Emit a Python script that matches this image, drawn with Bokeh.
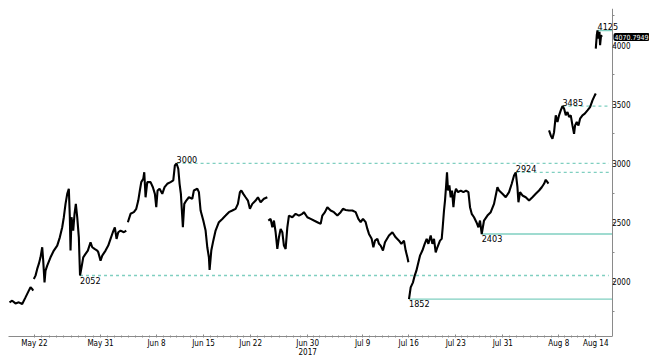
import math
from bokeh.plotting import figure
from bokeh.models import Range1d, FixedTicker, Label, LinearAxis
from bokeh.embed import file_html
from bokeh.resources import INLINE
from bokeh.core.properties import value

NaN = float("nan")
FONT = "DejaVu Sans Condensed"

# x = bar index (each bar ~3.6h, weekend/missing data compressed), y = price
bars = [
    1.0, 3.7, 7.0, 10.3, 13.7, 17.0, 20.3, 22.0, 23.7, 24.7, NaN,
    25.3, 27.0, 28.7, 30.3, 32.0, 33.7, 34.7, 36.0, 37.0, 38.7, 42.0, 45.3, 48.7, 51.3,
    53.7, 55.3, 57.0, 58.7, 60.3, 61.3, 62.0, 63.0, 64.7, 66.0, 67.3, 68.7, 70.3, 71.5,
    73.0, 74.7, 77.0, 79.3, 82.0, 83.7, 86.0, 88.7, 89.7, 92.0, 93.7, 97.0, 99.7, 102.0,
    104.3, 106.3, 108.0, 109.7, 112.0, 115.3, 117.7, NaN,
    119.3, 122.0, 125.3, 127.7, 129.7, 131.3, 132.7, 134.7, 135.7, 137.0, 138.7, 142.0,
    144.3, 146.3, 147.7, 149.0, 151.0, 153.7, 156.0, 158.7, 162.0, 164.7, 166.3, 168.0,
    169.7, 171.0, 172.3, 174.3, 175.7, 177.7, 180.3, 183.7, 185.3, 188.7, 190.3, 192.0,
    194.7, 197.0, 198.7, 200.3, 201.0, 202.7, 204.7, 207.0, 210.3, 213.7, 217.0, 220.3,
    223.7, 227.0, 229.3, 231.3, 232.7, 234.7, 237.0, 239.3, 241.3, 243.7, 247.0, 249.3,
    252.0, 255.3, 258.7, NaN,
    259.7, 262.0, 263.7, 265.3, 267.0, 268.7, 270.3, 272.0, 273.7, 275.3, 277.0, 278.7,
    280.3, 283.7, 287.0, 290.3, 293.7, 295.3, 298.7, 302.0, 305.3, 308.7, 312.0, 313.7,
    316.3, 318.7, 322.0, 325.3, 328.7, 332.0, 334.3, 337.0, 340.3, 343.7, 347.0, 349.7,
    352.0, 354.3, 357.0, 358.7, 360.3, 363.0, 364.7, 366.3, 368.7, 370.3, 372.0, 374.3,
    376.3, 380.3, 383.7, 387.0, 390.3, 392.7, 395.3, 397.0, 398.7, 399.7, NaN,
    400.3, 402.0, 404.3, 406.0, 407.7, 409.3, 411.3, 413.7, 416.0, 418.0, 419.7, 422.0,
    423.7, 425.3, 427.0, 428.7, 431.3, 433.0, 434.0, 435.3, 436.3, 437.3, 438.3, 439.3,
    440.7, 442.0, 443.3, 444.7, 446.0, 447.3, 449.3, 452.0, 454.7, 457.3, 459.7, 461.3,
    463.0, 465.3, 467.7, 469.7, 471.3, 473.0, 475.3, 478.7, 482.0, 485.3, 488.7, 490.3,
    493.7, 497.0, 500.3, 503.0, 505.3, 507.0, 508.7, 509.7, 511.3, 513.7, 517.0, 520.3,
    523.7, 527.0, 530.3, 533.0, 535.3, 537.0, 538.7, 539.7, NaN,
    540.3, 542.0, 543.7, 545.3, 547.0, 548.7, 550.3, 552.0, 553.7, 555.3, 557.0, 558.7,
    560.3, 562.0, 563.7, 565.3, 566.3, 568.0, 569.7, 571.3, 573.7, 576.0, 578.7, 581.3,
    583.7, 586.0, 587.0, NaN,
    587.0, 588.0, 588.7, 589.7, 590.7, 591.3, 592.3, 593.0,
]
price = [
    1825, 1839, 1816, 1825, 1811, 1867, 1924, 1952, 1938, 1924, NaN,
    2023, 2051, 2108, 2150, 2206, 2291, 2178, 1994, 2093, 2136, 2206, 2263, 2305, 2375,
    2460, 2545, 2658, 2743, 2786, 2545, 2263, 2545, 2432, 2574, 2658, 2545, 2375, 2052,
    2121, 2206, 2235, 2263, 2333, 2291, 2277, 2263, 2250, 2178, 2220, 2263, 2305, 2362,
    2418, 2460, 2362, 2418, 2432, 2418, 2432, NaN,
    2503, 2574, 2588, 2616, 2686, 2771, 2842, 2870, 2926, 2714, 2842, 2842,
    2799, 2743, 2630, 2771, 2786, 2743, 2799, 2828, 2842, 2856, 2983, 3000,
    2955, 2828, 2743, 2460, 2658, 2686, 2714, 2701, 2771, 2786, 2757, 2602,
    2517, 2432, 2291, 2206, 2100, 2263, 2347, 2432, 2503, 2531, 2559, 2588,
    2602, 2616, 2658, 2757, 2771, 2743, 2714, 2686, 2616, 2658, 2686, 2714,
    2672, 2701, 2714, NaN,
    2517, 2531, 2460, 2517, 2418, 2277, 2375, 2446, 2418, 2305, 2277, 2460,
    2559, 2545, 2574, 2559, 2574, 2588, 2545, 2531, 2517, 2503, 2489, 2559,
    2588, 2630, 2602, 2588, 2559, 2588, 2616, 2607, 2602, 2602, 2588, 2531,
    2503, 2531, 2503, 2446, 2404, 2362, 2291, 2347, 2362, 2320, 2305, 2263,
    2333, 2390, 2418, 2375, 2347, 2320, 2347, 2263, 2206, 2164, NaN,
    1852, 1952, 1994, 2051, 2093, 2150, 2220, 2263, 2320, 2362, 2320, 2390,
    2320, 2362, 2248, 2291, 2347, 2362, 2460, 2602, 2686, 2799, 2926, 2771,
    2814, 2714, 2771, 2630, 2743, 2786, 2757, 2771, 2757, 2771, 2757, 2630,
    2574, 2545, 2503, 2460, 2517, 2403, 2517, 2559, 2588, 2658, 2799, 2771,
    2743, 2714, 2757, 2828, 2898, 2924, 2799, 2672, 2757, 2729, 2714, 2686,
    2714, 2743, 2771, 2799, 2828, 2862, 2842, 2830, NaN,
    3280, 3237, 3209, 3265, 3407, 3350, 3407, 3449, 3485, 3464, 3407, 3435,
    3393, 3407, 3322, 3250, 3322, 3350, 3322, 3379, 3407, 3421, 3449, 3477,
    3534, 3576, 3591, NaN,
    3972, 4085, 4125, 4057, 4113, 4000, 4085, 4071,
]

# key levels: value, start bar, solid?, label above?
level_values = [3000, 2052, 2924, 3485, 4125, 2403, 1852]
level_start = [168.0, 71.5, 507.0, 553.7, 588.7, 473.0, 400.3]
level_solid = [False, False, False, False, True, True, True]
level_above = [True, False, True, True, True, False, False]

last_price = "4070.7949"
last_value = 4070.7949

tick_pos = [26, 92, 148, 195, 242, 299, 354, 400, 447, 494, 550, 587]
tick_lab = ["May 22", "May 31", "Jun 8", "Jun 15", "Jun 22", "Jun 30\n2017", "Jul 9",
            "Jul 16", "Jul 23", "Jul 31", "Aug 8", "Aug 14"]
tick_days = [9, 8, 7, 7, 8, 9, 7, 7, 8, 8, 6]

X_END = 603.7      # position of the price axis (last bar slot)
X_MAX = 640.7      # room right of the price axis for its labels and the tag
DASH_END = 600.0
TEAL = "#7fcfc0"
AXIS_GREY = "#8a8a8a"

p = figure(frame_width=641, frame_height=328, output_backend="svg", toolbar_location=None,
           x_range=Range1d(0, X_MAX), y_range=Range1d(1536, 4311),
           y_axis_location=None, min_border_left=8, min_border_top=8,
           min_border_bottom=20, min_border_right=0)
p.outline_line_color = None
p.grid.visible = False
p.background_fill_color = "white"

# level lines
for v, s, solid in zip(level_values, level_start, level_solid):
    p.segment(x0=[s], y0=[v], x1=[X_END if solid else DASH_END], y1=[v],
              line_color=TEAL, line_width=1.3,
              line_dash="solid" if solid else "3 3")

p.line(bars, price, line_color="black", line_width=2.1)

for v, s, above in zip(level_values, level_start, level_above):
    p.text(x=[s], y=[v], text=[str(v)], text_font=value(FONT),
           text_font_size="9px", text_color="black", text_align="left",
           text_baseline="bottom" if above else "top",
           y_offset=0 if above else 1)

# x axis
minor = []
for i, d in enumerate(tick_days):
    a, b = tick_pos[i], tick_pos[i + 1]
    for k in range(1, d):
        minor.append(a + (b - a) * k / d)
p.xaxis.ticker = FixedTicker(ticks=tick_pos, minor_ticks=minor)
p.xaxis.bounds = (0, X_END)
p.xaxis.major_label_overrides = {t: l for t, l in zip(tick_pos, tick_lab)}
p.xaxis.major_label_text_font = FONT
p.xaxis.major_label_text_font_size = "8px"
p.xaxis.major_label_text_color = "black"
p.xaxis.major_label_text_line_height = 1.0
p.xaxis.major_label_standoff = 1
p.xaxis.axis_line_color = AXIS_GREY
p.xaxis.major_tick_line_color = AXIS_GREY
p.xaxis.minor_tick_line_color = AXIS_GREY
p.xaxis.major_tick_in = 2
p.xaxis.major_tick_out = 1
p.xaxis.minor_tick_in = 1
p.xaxis.minor_tick_out = 1

# price axis, fixed at the right end of the data, labels facing right
yax = LinearAxis(fixed_location=X_END,
                 ticker=FixedTicker(ticks=[2000, 2500, 3000, 3500, 4000],
                                    minor_ticks=[1750, 2250, 2750, 3250, 3750, 4250]))
yax.major_label_text_font = FONT
yax.major_label_text_font_size = "8px"
yax.major_label_text_color = "black"
yax.major_label_standoff = -18
yax.axis_line_color = AXIS_GREY
yax.major_tick_line_color = AXIS_GREY
yax.minor_tick_line_color = AXIS_GREY
yax.major_tick_in = 3
yax.major_tick_out = 0
yax.minor_tick_in = 2
yax.minor_tick_out = 0
p.add_layout(yax, "left")

# last-price tag on the price axis
tag = Label(x=X_END, y=last_value, text=last_price, x_offset=1,
            text_font=FONT, text_font_size="7px", text_color="white",
            text_baseline="middle", text_align="left",
            background_fill_color="black", background_fill_alpha=1.0, padding=1,
            border_radius=2)
p.add_layout(tag)

open("out.html", "w").write(file_html(p, INLINE))
